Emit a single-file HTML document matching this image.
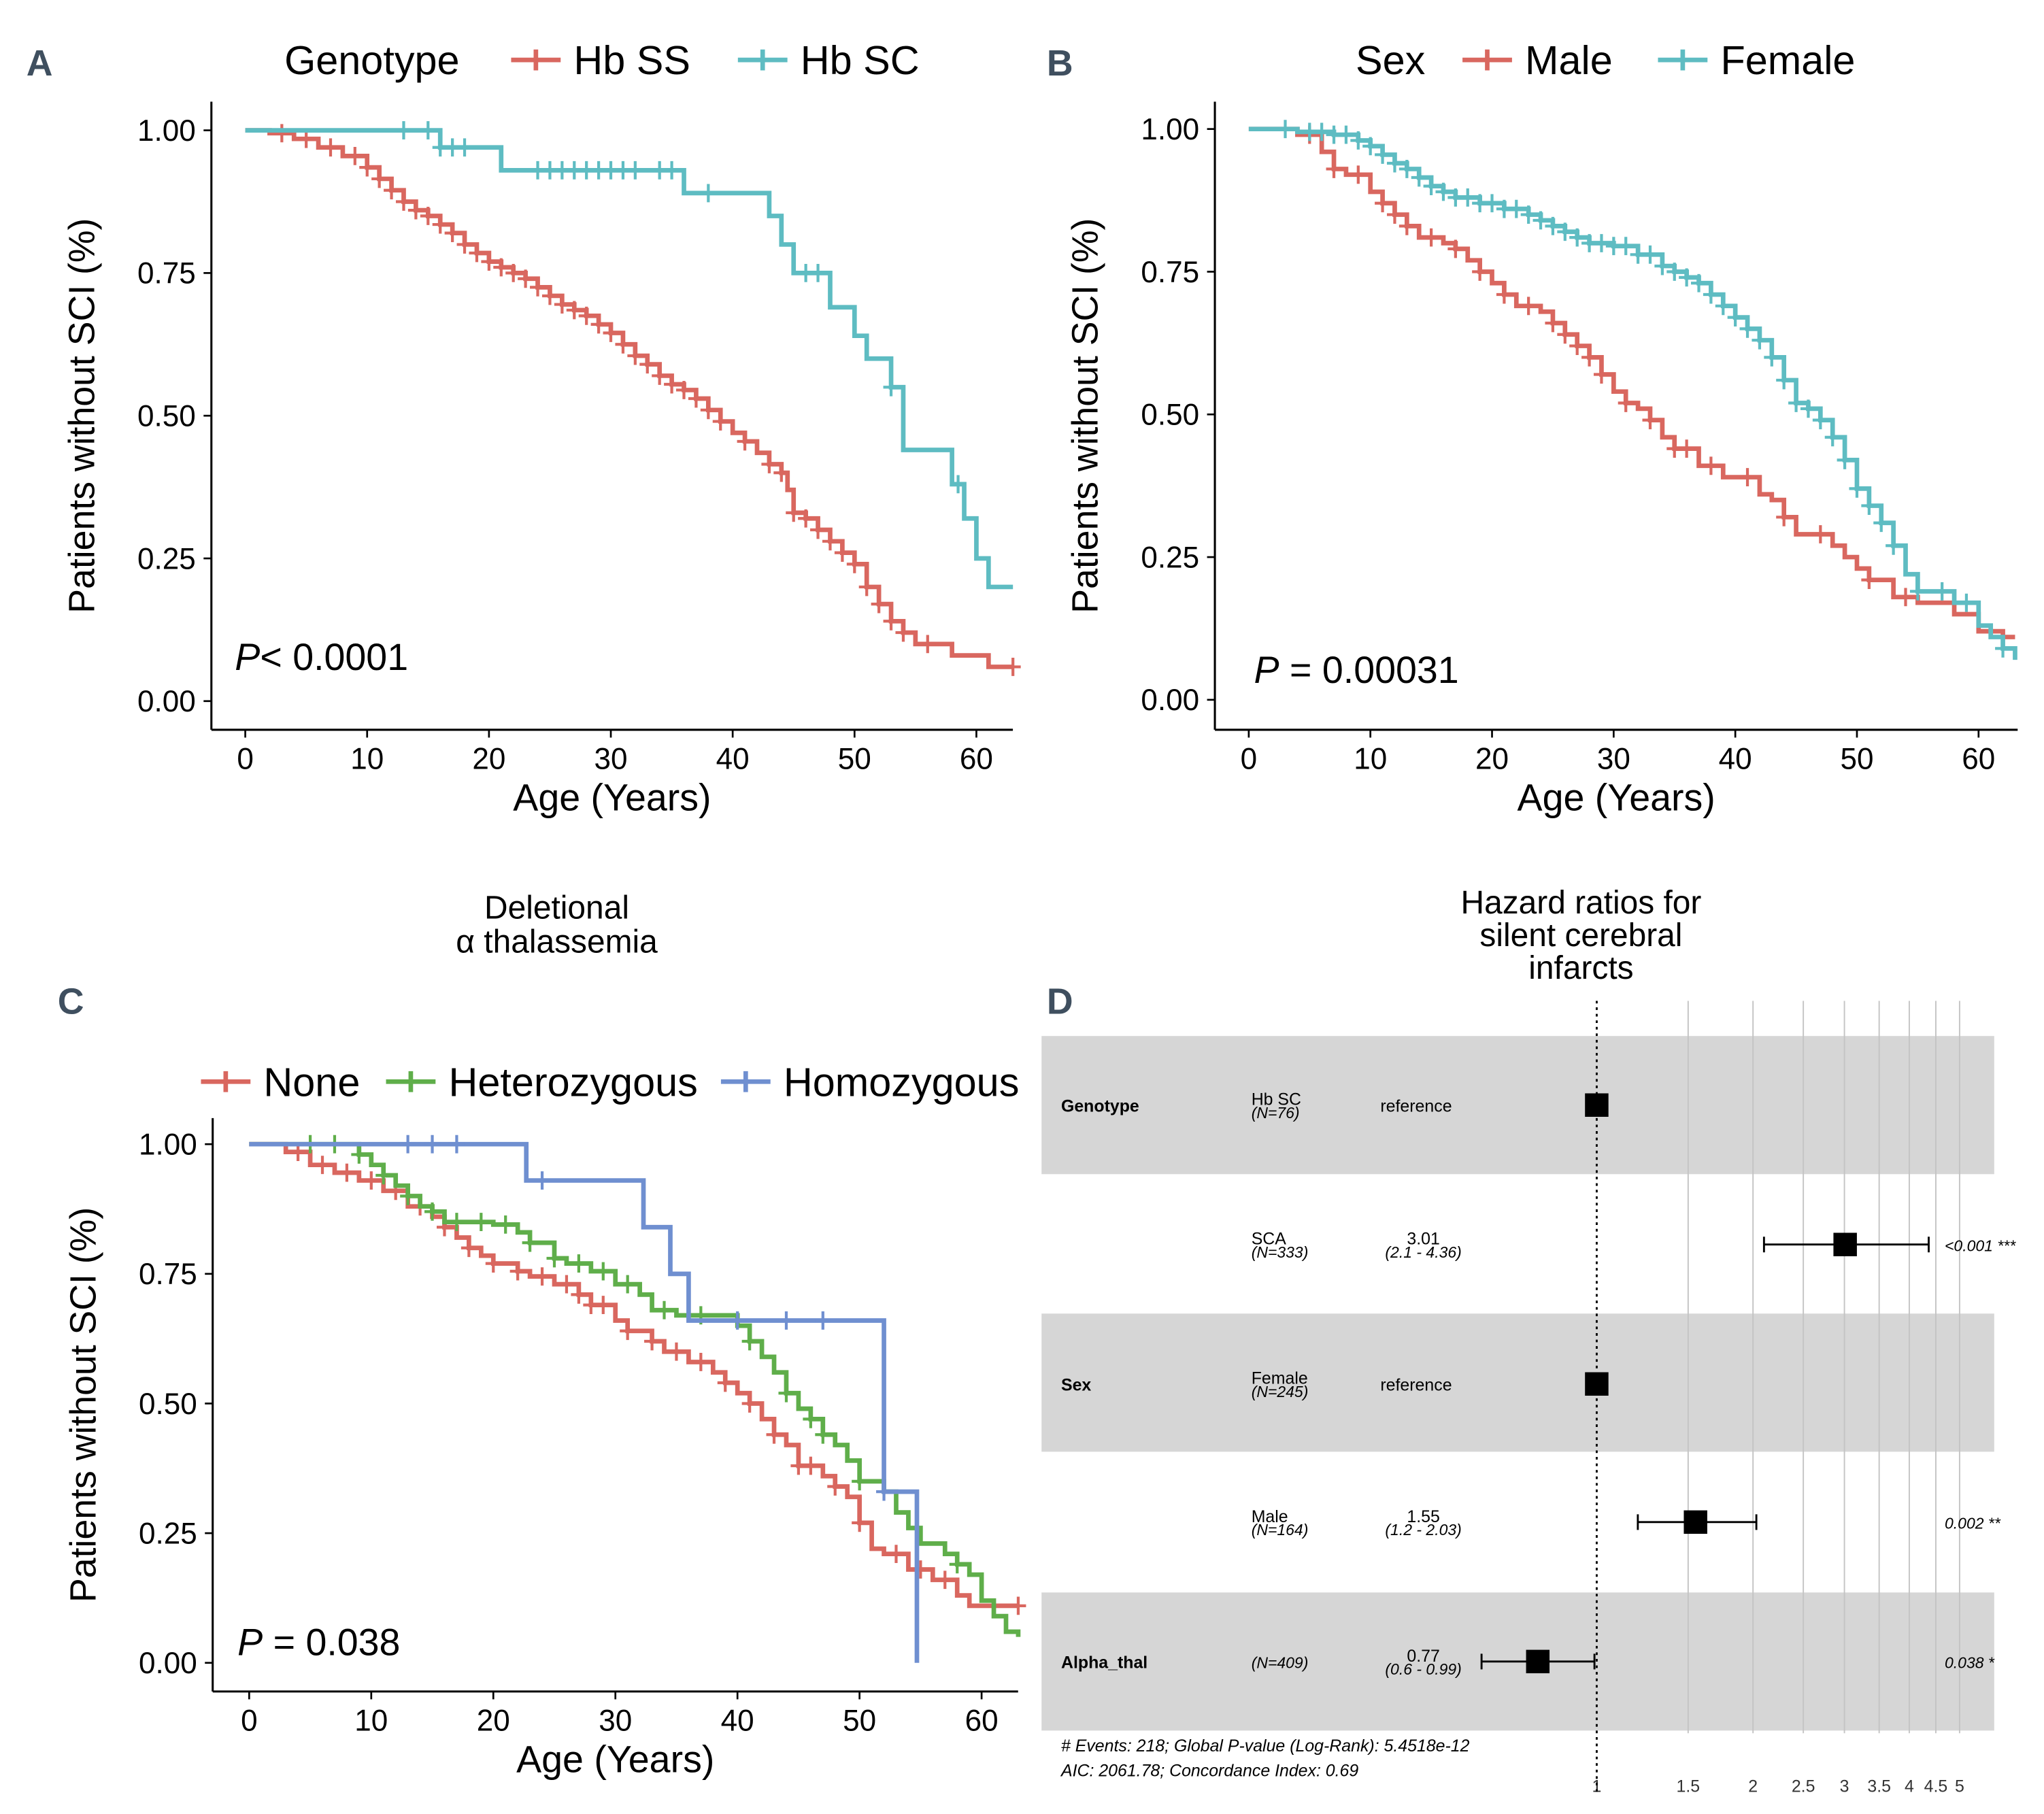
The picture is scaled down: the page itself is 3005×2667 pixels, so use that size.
<!DOCTYPE html>
<html><head><meta charset="utf-8"><style>
html,body{margin:0;padding:0;background:#fff}
svg{display:block}
text{font-family:"Liberation Sans",sans-serif}
</style></head><body>
<svg id="fig" width="3005" height="2667" viewBox="0 0 1568 1392" xmlns="http://www.w3.org/2000/svg"></svg>
<script>
// ---- data ----
const hbssT=[0,2,4,6,8,10,11,12,13,14,15,16,17,18,19,20,21,22,23,24,25,26,27,28,29,30,31,32,33,34,35,36,37,38,39,40,41,42,43,44,44.5,45,46,47,48,49,50,51,52,53,54,55,58,61,63];
const hbssS=[1,0.995,0.985,0.97,0.955,0.935,0.915,0.895,0.875,0.86,0.85,0.835,0.82,0.80,0.785,0.77,0.76,0.75,0.74,0.725,0.71,0.695,0.685,0.675,0.66,0.645,0.625,0.605,0.59,0.57,0.555,0.545,0.53,0.51,0.49,0.47,0.455,0.435,0.415,0.40,0.37,0.33,0.32,0.30,0.28,0.26,0.24,0.20,0.17,0.14,0.12,0.10,0.08,0.06,0.06];
const hbscT=[0,16,21,36,43,44,45,48,50,51,53,54,57,58,59,60,61,63];
const hbscS=[1,0.97,0.93,0.89,0.85,0.80,0.75,0.69,0.64,0.60,0.55,0.44,0.44,0.38,0.32,0.25,0.20,0.20];
const maleT=[0,4,6,7,8,10,11,12,13,14,16,17,18,19,20,21,22,24,25,26,27,28,29,30,31,32,33,34,35,37,39,42,43,44,45,48,49,50,51,53,55,58,60,62,63];
const maleS=[1,0.99,0.96,0.93,0.92,0.89,0.87,0.85,0.83,0.81,0.80,0.79,0.77,0.75,0.73,0.71,0.69,0.68,0.66,0.64,0.62,0.60,0.57,0.54,0.52,0.51,0.49,0.46,0.44,0.41,0.39,0.36,0.35,0.32,0.29,0.27,0.25,0.23,0.21,0.18,0.17,0.15,0.12,0.11,0.11];
const femT=[0,4,7,9,10,11,12,13,14,15,16,17,19,21,23,24,25,26,27,28,30,32,34,35,36,37,38,39,40,41,42,43,44,45,46,47,48,49,50,51,52,53,54,55,58,60,61,62,63];
const femS=[1,0.995,0.99,0.98,0.97,0.955,0.94,0.93,0.915,0.90,0.89,0.88,0.87,0.86,0.85,0.84,0.83,0.82,0.81,0.80,0.795,0.78,0.76,0.75,0.74,0.73,0.71,0.69,0.67,0.65,0.63,0.60,0.56,0.52,0.51,0.49,0.46,0.42,0.37,0.34,0.31,0.27,0.22,0.19,0.17,0.13,0.11,0.09,0.07];
const noneT=[0,3,5,7,9,11,13,15,16,17,18,19,20,22,23,25,27,28,30,31,33,34,36,38,39,40,41,42,43,44,45,47,48,49,50,51,52,54,56,58,59,63];
const noneS=[1,0.985,0.96,0.945,0.93,0.91,0.88,0.86,0.84,0.82,0.80,0.785,0.77,0.755,0.745,0.73,0.71,0.69,0.66,0.64,0.62,0.60,0.58,0.56,0.54,0.52,0.50,0.47,0.44,0.42,0.38,0.36,0.34,0.32,0.27,0.22,0.21,0.18,0.16,0.13,0.11,0.11];
const hetT=[0,7,9,10,11,12,13,14,15,16,20,22,23,25,26,28,30,32,33,35,40,41,42,43,44,45,46,47,48,49,50,52,53,54,55,57,58,59,60,61,62,63];
const hetS=[1,1,0.98,0.96,0.94,0.92,0.90,0.88,0.87,0.85,0.845,0.83,0.81,0.78,0.77,0.755,0.73,0.71,0.68,0.67,0.65,0.62,0.59,0.56,0.52,0.49,0.47,0.44,0.42,0.39,0.35,0.33,0.29,0.26,0.23,0.21,0.19,0.17,0.12,0.09,0.06,0.05];
const homT=[0,22.7,32.3,34.5,36,52,54.7];
const homS=[1,0.93,0.84,0.75,0.66,0.33,0.0];
const censA1=[3,5,7,9,10,11,12,13,14,15,16,17,18,19,20,21,22,23,24,25,26,27,28,29,30,31,32,33,34,35,36,37,38,39,41,43,44,45,46,47,48,49,50,51,52,53,54,56,63];
const censA2=[13,15,16,17,18,24,25,26,27,28,29,30,31,32,34,35,38,46,47,53,58.5];
const censB1=[5,7,9,11,12,13,15,17,19,21,23,25,26,27,28,29,31,33,35,36,38,41,44,47,51,54];
const censB2=[3,5,6,7,8,9,10,11,12,13,14,15,16,17,18,19,20,21,22,23,24,25,26,27,28,29,30,31,32,33,34,35,36,37,38,39,40,41,42,43,44,45,46,47,48,49,50,51,52,53,55,57,59,62];
const censC1=[4,6,8,10,12,14,16,18,20,22,24,26,27,28,29,31,33,35,37,39,41,43,45,46,48,50,53,55,57,63];
const censC2=[5,7,9,11,13,15,17,19,21,23,25,27,29,31,34,37,41,44,46,47,50,58];
const censC3=[13,15,17,24,40,44,47,52];
const xTicks=[0,10,20,30,40,50,60];
const yTicks=[0,0.25,0.5,0.75,1];
const yLabels=["0.00","0.25","0.50","0.75","1.00"];
// forest
const hrVals=[1,3.01,1,1.55,0.77];
const hrLo=[null,2.1,null,1.2,0.6];
const hrHi=[null,4.36,null,2.03,0.99];
const hrTicks=[1,1.5,2,2.5,3,3.5,4,4.5,5];
const hrTickLabels=["1","1.5","2","2.5","3","3.5","4","4.5","5"];

const RED="#d9675f",TEAL="#5ebcc2",GREEN="#5fae4a",BLUE="#6f8fd0";
const svg=document.getElementById('fig');
const NS="http://www.w3.org/2000/svg";
function mk(tag,attrs,parent){const e=document.createElementNS(NS,tag);for(const k in attrs)e.setAttribute(k,attrs[k]);(parent||svg).appendChild(e);return e;}
function txt(s,x,y,size,attrs,parent){const t=mk('text',Object.assign({x:x,y:y,'font-size':size},attrs||{}),parent);t.textContent=s;return t;}
function stepAt(T,S,t){let v=S[0];for(let i=0;i<T.length;i++){if(T[i]<=t)v=S[i];}return v;}

function panel(p){
  const g=mk('g',{});
  
  
  const sx=t=>p.x0+(p.x60-p.x0)*t/60, sy=s=>p.y0+(p.y1-p.y0)*s;
  const ax=mk('line',{x1:p.axX,y1:p.top,x2:p.axX,y2:p.axY,stroke:'#000','stroke-width':1.6},g);
  
  const bx=mk('line',{x1:p.axX,y1:p.axY,x2:p.right,y2:p.axY,stroke:'#000','stroke-width':1.6},g);
  
  xTicks.forEach(t=>{mk('line',{x1:sx(t),y1:p.axY,x2:sx(t),y2:p.axY+6,stroke:'#000','stroke-width':1.4},g);
    const l=txt(String(t),sx(t),p.axY+30,23,{'text-anchor':'middle'},g);});
  yTicks.forEach((v,i)=>{mk('line',{x1:p.axX-6,y1:sy(v),x2:p.axX,y2:sy(v),stroke:'#000','stroke-width':1.4},g);
    const l=txt(yLabels[i],p.axX-12,sy(v)+8,23,{'text-anchor':'end'},g);});
  const xt=txt('Age (Years)',(p.axX+p.right)/2,p.axY+62,29,{'text-anchor':'middle'},g);
  
  const cy=(p.top+p.axY)/2;
  const yt=txt('Patients without SCI (%)',p.axX-90,cy,28,{'text-anchor':'middle',transform:`rotate(-90 ${p.axX-90} ${cy})`},g);
  
  p.series.forEach(s=>{
    let d=`M${sx(s.T[0])},${sy(s.S[0])}`;
    for(let i=1;i<s.T.length;i++){d+=`H${sx(s.T[i])}V${sy(s.S[i])}`;}
    const path=mk('path',{d:d,fill:'none',stroke:s.c,'stroke-width':3.5},g);
    
    (s.cens||[]).forEach(t=>{const x=sx(t),y=sy(stepAt(s.T,s.S,t));
      const c=mk('path',{d:`M${x},${y-7}V${y+7}M${x-6},${y}H${x+6}`,stroke:s.c,'stroke-width':2.2},g);
      });
  });
  const pv=mk('text',{x:p.pX,y:p.pY,'font-size':29},g);
  
  pv.innerHTML=`<tspan font-style="italic">P</tspan>${p.pText}`;
  if(p.legTitle){const lt=txt(p.legTitle,p.legTitleX,p.legY+11,31,{},g);}
  p.series.forEach((s,i)=>{
    const lx=p.legXs[i];
    const le=mk('g',{},g);
    mk('path',{d:`M${lx},${p.legY}H${lx+38}M${lx+19},${p.legY-8}V${p.legY+8}`,stroke:s.c,'stroke-width':3.5},le);
    txt(s.label,lx+48,p.legY+11,31,{},le);
  });
  const lab=txt(p.letter,p.letX,p.letY,28,{'font-weight':'bold',fill:'#3f4f5f','font-family':'"Liberation Sans Narrow","Liberation Sans",sans-serif'},g);
  
}

panel({name:'panel-a-genotype',x0:188,x60:749,y1:100,y0:538,axX:162,axY:560,top:78,right:777,pX:180,pY:514,pText:'< 0.0001',
  legTitle:'Genotype',legTitleX:218,legY:46,legXs:[392,566],letter:'A',letX:20,letY:58,
  series:[{n:'hb-ss',label:'Hb SS',T:hbssT,S:hbssS,c:RED,cens:censA1},{n:'hb-sc',label:'Hb SC',T:hbscT,S:hbscS,c:TEAL,cens:censA2}]});
panel({name:'panel-b-sex',x0:958,x60:1518,y1:99,y0:537,axX:932,axY:560,top:78,right:1548,pX:962,pY:524,pText:' = 0.00031',
  legTitle:'Sex',legTitleX:1040,legY:46,legXs:[1122,1272],letter:'B',letX:803,letY:58,
  series:[{n:'male',label:'Male',T:maleT,S:maleS,c:RED,cens:censB1},{n:'female',label:'Female',T:femT,S:femS,c:TEAL,cens:censB2}]});
panel({name:'panel-c-alpha-thal',x0:191,x60:753,y1:878,y0:1276,axX:163,axY:1298,top:858,right:781,pX:182,pY:1270,pText:' = 0.038',
  legTitle:null,legY:830,legXs:[154,296,553],letter:'C',letX:44,letY:778,
  series:[{n:'none',label:'None',T:noneT,S:noneS,c:RED,cens:censC1},{n:'heterozygous',label:'Heterozygous',T:hetT,S:hetS,c:GREEN,cens:censC2},{n:'homozygous',label:'Homozygous',T:homT,S:homS,c:BLUE,cens:censC3}]});
const ct=txt('Deletional',427,705,25,{'text-anchor':'middle'});
const ct2=txt('α thalassemia',427,731,25,{'text-anchor':'middle'});

// ---- Panel D forest ----
const D=mk('g',{});
const hx=v=>1225+173*Math.log(v);
const dl=txt('D',803,778,28,{'font-weight':'bold',fill:'#3f4f5f','font-family':'"Liberation Sans Narrow","Liberation Sans",sans-serif'},D);
['Hazard ratios for','silent cerebral','infarcts'].forEach((s,i)=>{const t=txt(s,1213,701+i*25,25,{'text-anchor':'middle'},D);});
[[795,106],[1008,106],[1222,106]].forEach(b=>{const r=mk('rect',{x:799,y:b[0],width:731,height:b[1],fill:'#d6d6d6'},D);});
hrTicks.forEach((v,i)=>{if(v>1){const l=mk('line',{x1:hx(v),y1:768,x2:hx(v),y2:1330,stroke:'#c4c4c4','stroke-width':1},D);}
  const t=txt(hrTickLabels[i],hx(v),1375,13,{'text-anchor':'middle',fill:'#333'},D);});
const ref=mk('line',{x1:1225,y1:768,x2:1225,y2:1375,stroke:'#000','stroke-width':1.5,'stroke-dasharray':'2,3'},D);
const rowsY=[848,955,1062,1168,1275];
const rowTxt=[['Genotype','Hb SC','(N=76)','reference','',''],['','SCA','(N=333)','3.01','(2.1 - 4.36)','<0.001 ***'],['Sex','Female','(N=245)','reference','',''],['','Male','(N=164)','1.55','(1.2 - 2.03)','0.002 **'],['Alpha_thal','','(N=409)','0.77','(0.6 - 0.99)','0.038 *']];
rowsY.forEach((y,i)=>{
  const r=rowTxt[i];const g=mk('g',{},D);
  if(r[0])txt(r[0],814,y+5,13,{'font-weight':'bold'},g);
  if(r[1])txt(r[1],960,y,13,{},g);
  txt(r[2],960,y+(r[1]?10:5),12,{'font-style':'italic'},g);
  if(r[3]==='reference')txt('reference',1059,y+5,13,{},g);
  else{txt(r[3],1092,y,13,{'text-anchor':'middle'},g);txt(r[4],1092,y+10,12,{'text-anchor':'middle','font-style':'italic'},g);}
  if(r[5])txt(r[5],1492,y+5,12,{'font-style':'italic'},g);
  if(hrLo[i]!==null){mk('path',{d:`M${hx(hrLo[i])},${y}H${hx(hrHi[i])}M${hx(hrLo[i])},${y-6}V${y+6}M${hx(hrHi[i])},${y-6}V${y+6}`,stroke:'#000','stroke-width':1.5},g);}
  const sq=mk('rect',{x:hx(hrVals[i])-9,y:y-9,width:18,height:18,fill:'#000'},g);
});
const f1=txt('# Events: 218; Global  P-value  (Log-Rank): 5.4518e-12',814,1344,13,{'font-style':'italic'},D);
const f2=txt('AIC: 2061.78; Concordance Index: 0.69',814,1363,13,{'font-style':'italic'},D);
</script>
</body></html>
